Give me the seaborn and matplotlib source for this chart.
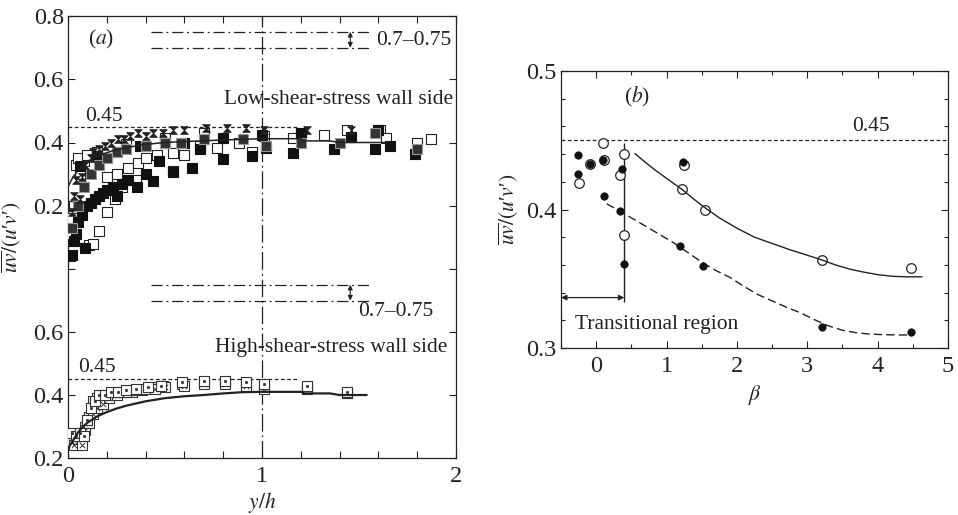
import numpy as np
import pandas as pd
import matplotlib
matplotlib.use("Agg")
import matplotlib.pyplot as plt
import seaborn as sns
from matplotlib.path import Path
from matplotlib.ticker import MultipleLocator, FixedLocator, FuncFormatter

# ---------------- Panel (a): low-shear-stress wall side (upper part) ----------------
low_hg_x = [0.02, 0.03, 0.04, 0.06, 0.07, 0.09, 0.12, 0.13, 0.16, 0.19, 0.22, 0.26, 0.29,
            0.32, 0.36, 0.40, 0.44, 0.49, 0.54, 0.60, 0.71, 0.82, 0.92, 1.01, 1.23, 1.46]
low_hg_y = [0.18, 0.23, 0.28, 0.22, 0.29, 0.33, 0.35, 0.37, 0.38, 0.39, 0.40, 0.41, 0.41,
            0.42, 0.43, 0.42, 0.43, 0.43, 0.44, 0.44, 0.445, 0.445, 0.445, 0.44, 0.44, 0.44]

low_open_x = [0.01, 0.015, 0.02, 0.03, 0.04, 0.06, 0.08, 0.11, 0.13, 0.16, 0.20, 0.20, 0.24,
              0.25, 0.28, 0.31, 0.35, 0.36, 0.40, 0.46, 0.54, 0.54, 0.60, 0.68, 0.77, 0.88,
              0.95, 1.01, 1.16, 1.32, 1.44, 1.61, 1.64, 1.80, 1.87, 0.05, 0.10, 0.15, 0.30,
              0.50, 0.70, 1.20]
low_open_y = [0.04, 0.11, 0.16, 0.20, 0.33, 0.30, 0.34, 0.076, 0.08, 0.12, 0.18, 0.29, 0.22,
              0.30, 0.26, 0.32, 0.28, 0.335, 0.35, 0.36, 0.31, 0.366, 0.36, 0.388, 0.383, 0.40,
              0.37, 0.42, 0.415, 0.425, 0.44, 0.44, 0.415, 0.397, 0.41, 0.35, 0.36, 0.37, 0.395,
              0.415, 0.43, 0.43]

low_fill_x = [0.02, 0.03, 0.04, 0.05, 0.07, 0.09, 0.10, 0.12, 0.14, 0.16, 0.18, 0.20, 0.23,
              0.25, 0.28, 0.31, 0.355, 0.40, 0.44, 0.47, 0.54, 0.64, 0.68, 0.80, 0.95, 1.02,
              1.16, 1.37, 1.46, 1.58, 1.60, 1.66, 1.79, 0.06, 0.15, 0.25, 0.37, 0.50, 0.60,
              0.80, 1.00, 1.20]
low_fill_y = [0.044, 0.09, 0.11, 0.15, 0.17, 0.066, 0.20, 0.21, 0.22, 0.23, 0.24, 0.25, 0.26,
              0.23, 0.27, 0.28, 0.26, 0.30, 0.277, 0.34, 0.307, 0.32, 0.378, 0.348, 0.356, 0.384,
              0.368, 0.38, 0.416, 0.38, 0.44, 0.39, 0.365, 0.325, 0.356, 0.37, 0.388, 0.40, 0.40,
              0.415, 0.425, 0.43]

low_half_x = [0.02, 0.05, 0.08, 0.12, 0.16, 0.20, 0.25, 0.30, 0.40, 0.50, 0.58, 0.70, 0.90,
              1.02, 1.20, 1.40, 1.58, 1.80]
low_half_y = [0.13, 0.20, 0.26, 0.30, 0.33, 0.35, 0.37, 0.38, 0.39, 0.40, 0.40, 0.41, 0.41,
              0.39, 0.40, 0.40, 0.43, 0.38]

low_curve_x = [0.0, 0.025, 0.05, 0.075, 0.10, 0.15, 0.20, 0.25, 0.30, 0.40, 0.50, 0.60, 0.80,
               1.00, 1.20, 1.22, 1.35, 1.40, 1.65]
low_curve_y = [0.26, 0.29, 0.31, 0.327, 0.34, 0.356, 0.368, 0.377, 0.384, 0.394, 0.40, 0.403,
               0.408, 0.412, 0.412, 0.405, 0.405, 0.40, 0.40]

# ---------------- Panel (a): high-shear-stress wall side (lower part) ----------------
high_x_x = [0.02, 0.03, 0.05, 0.07, 0.09, 0.11, 0.13, 0.15, 0.18, 0.21, 0.25, 0.30, 0.35,
            0.40, 0.45, 0.50, 0.60, 0.70, 0.81, 0.92, 1.01, 1.23, 1.44]
high_x_y = [0.25, 0.24, 0.26, 0.24, 0.29, 0.31, 0.34, 0.36, 0.37, 0.39, 0.40, 0.41, 0.415,
            0.42, 0.42, 0.425, 0.43, 0.435, 0.435, 0.43, 0.42, 0.42, 0.405]

high_dot_x = [0.02, 0.04, 0.06, 0.08, 0.10, 0.12, 0.14, 0.16, 0.19, 0.22, 0.26, 0.30, 0.35,
              0.41, 0.48, 0.59, 0.70, 0.81, 0.92, 1.01, 1.23, 1.44]
high_dot_y = [0.28, 0.27, 0.28, 0.27, 0.32, 0.36, 0.38, 0.40, 0.40, 0.41, 0.41, 0.415, 0.42,
              0.425, 0.43, 0.44, 0.445, 0.445, 0.44, 0.435, 0.43, 0.41]

high_open_x = [0.03, 0.06, 0.09, 0.11, 0.13, 0.15, 0.17, 0.20, 0.24, 0.28, 0.33, 0.38, 0.43,
               0.49, 0.59, 0.70, 0.81, 0.92, 1.01, 1.23, 1.44]
high_open_y = [0.27, 0.26, 0.30, 0.33, 0.38, 0.39, 0.38, 0.40, 0.405, 0.41, 0.41, 0.415, 0.425,
               0.43, 0.435, 0.44, 0.44, 0.435, 0.43, 0.425, 0.405]

high_curve_x = [0.0, 0.025, 0.05, 0.075, 0.10, 0.15, 0.20, 0.25, 0.30, 0.40, 0.50, 0.60, 0.70,
                0.80, 0.90, 1.00, 1.20, 1.22, 1.35, 1.40, 1.54]
high_curve_y = [0.23, 0.255, 0.28, 0.298, 0.312, 0.332, 0.346, 0.357, 0.366, 0.38, 0.39, 0.396,
                0.40, 0.405, 0.409, 0.41, 0.41, 0.405, 0.405, 0.40, 0.40]

# ---------------- Panel (b) ----------------
b_open_x = [0.10, 0.39, -0.25, -0.085, 0.105, 0.34, 0.40, 1.25, 1.22, 1.54, 3.21, 4.48]
b_open_y = [0.448, 0.440, 0.419, 0.433, 0.436, 0.4246, 0.3817, 0.4324, 0.4145, 0.3998, 0.3635, 0.3577]

b_fill_x = [-0.26, -0.26, -0.085, 0.10, 0.105, 0.365, 0.34, 0.39, 1.24, 1.19, 1.52, 3.21, 4.47]
b_fill_y = [0.4396, 0.4259, 0.433, 0.436, 0.410, 0.429, 0.3988, 0.3606, 0.4346, 0.3739, 0.3591,
            0.3154, 0.3118]

b_solid_x = [0.55, 0.70, 0.85, 1.00, 1.22, 1.40, 1.54, 1.75, 2.00, 2.25, 2.50, 2.75, 3.00, 3.21,
             3.40, 3.60, 3.80, 4.00, 4.20, 4.40, 4.63]
b_solid_y = [0.4404, 0.434, 0.428, 0.4225, 0.4145, 0.407, 0.4015, 0.394, 0.3865, 0.380, 0.3755,
             0.371, 0.367, 0.3635, 0.360, 0.357, 0.3548, 0.353, 0.3518, 0.3514, 0.3514]

b_dash_x = [0.15, 0.34, 0.50, 0.70, 0.90, 1.10, 1.30, 1.50, 1.70, 1.90, 2.10, 2.30, 2.50, 2.70,
            2.90, 3.10, 3.30, 3.50, 3.70, 3.90, 4.10, 4.30, 4.47]
b_dash_y = [0.4041, 0.3988, 0.394, 0.388, 0.382, 0.376, 0.369, 0.362, 0.356, 0.351, 0.3445,
            0.3385, 0.334, 0.3295, 0.3255, 0.3205, 0.316, 0.3128, 0.311, 0.3100, 0.3096, 0.3094,
            0.3094]

ref_045 = 0.45
band_lo, band_hi = 0.70, 0.75
trans_edge = 0.4

# ---------------- style ----------------
sns.set_theme(style="ticks")
plt.rcParams["font.family"] = ["Liberation Serif", "DejaVu Serif"]
plt.rcParams["mathtext.fontset"] = "stix"
INK = "#222222"
plt.rcParams.update({
    "axes.edgecolor": INK, "axes.linewidth": 0.9,
    "xtick.color": INK, "ytick.color": INK,
    "text.color": INK, "axes.labelcolor": INK,
    "xtick.direction": "in", "ytick.direction": "in",
    "xtick.major.size": 5, "ytick.major.size": 5,
    "xtick.minor.size": 3, "ytick.minor.size": 3,
    "xtick.major.width": 0.8, "ytick.major.width": 0.8,
    "xtick.minor.width": 0.8, "ytick.minor.width": 0.8,
    "font.size": 15,
})
FS = 15.5
TFS = 17.5
YLABEL = r"$\overline{uv}/(u$′$v$′$)$"

fig = plt.figure(figsize=(9.58, 5.15), dpi=100)
W, H = 958, 515
ax_top = fig.add_axes([68 / W, 1 - 269 / H, 388 / W, 253 / H])
ax_bot = fig.add_axes([68 / W, 1 - 458 / H, 388 / W, 189 / H])
ax_b = fig.add_axes([561 / W, 1 - 348 / H, 387 / W, 277 / H])

hourglass = Path([(-1, 1), (1, 1), (-1, -1), (1, -1), (-1, 1)])


def pts(ax, x, y, marker="s", fc="white", ec=INK, s=42, lw=0.8, z=3):
    sns.scatterplot(x=x, y=y, ax=ax, marker=marker, color=fc, edgecolor=ec,
                    s=s, linewidth=lw, zorder=z, legend=False)


def curve(ax, x, y, ls="-", lw=1.1, z=4):
    sns.lineplot(x=x, y=y, ax=ax, color=INK, linestyle=ls, linewidth=lw,
                 estimator=None, sort=False, zorder=z, legend=False)


# ---------- top (low shear) ----------
ax = ax_top
pts(ax, low_open_x, low_open_y, fc="white", ec=INK)
pts(ax, low_fill_x, low_fill_y, fc="#111111", ec="#111111")
pts(ax, low_half_x, low_half_y, fc="#333333", ec="#999999")
pts(ax, low_hg_x, low_hg_y, marker=hourglass, fc="#222222", ec="#222222", s=30, lw=0.6)
curve(ax, low_curve_x, low_curve_y)
ax.hlines(ref_045, 0, 1.18, colors=INK, linestyles=(0, (3, 2)), lw=0.9)
ax.text(0.088, 0.483, "0.45", fontsize=FS, va="center", ha="left")
for yv in (band_lo, band_hi):
    ax.hlines(yv, 0.43, 1.565, colors=INK, linestyles=(0, (9, 3, 1.5, 3)), lw=0.9)
ax.annotate("", xy=(1.455, band_hi), xytext=(1.455, band_lo),
            arrowprops=dict(arrowstyle="<|-|>", mutation_scale=7, lw=0.8, color=INK,
                            shrinkA=0, shrinkB=0))
ax.text(1.59, 0.722, "0.7–0.75", fontsize=FS, va="center", ha="left")
ax.text(1.985, 0.537, "Low-shear-stress wall side", fontsize=FS, va="center", ha="right")
ax.text(0.17, 0.727, r"($a$)", fontsize=FS, va="center", ha="center")
ax.axvline(1.0, color=INK, lw=0.9, linestyle=(0, (14, 3, 1.5, 3)))
ax.set_xlim(0, 2)
ax.set_ylim(0, 0.8)
ax.yaxis.set_major_locator(FixedLocator([0.0, 0.2, 0.4, 0.6, 0.8]))
ax.yaxis.set_major_formatter(FuncFormatter(lambda v, p: "" if abs(v) < 1e-9 else f"{v:.1f}"))
ax.xaxis.set_major_locator(MultipleLocator(0.2))
ax.tick_params(axis="x", top=True, bottom=False, labelbottom=False, labeltop=False)
ax.tick_params(axis="y", left=True, right=True, labelsize=TFS, pad=3)
ax.spines["bottom"].set_visible(False)
ax.set_xlabel("")
ax.set_ylabel("")

# ---------- bottom (high shear) ----------
ax = ax_bot
pts(ax, high_open_x, high_open_y, fc="white", ec="#333333")
pts(ax, high_x_x, high_x_y, fc="white", ec="#333333")
pts(ax, high_x_x, high_x_y, marker="x", fc="#333333", ec="#333333", s=16, lw=0.7)
pts(ax, high_dot_x, high_dot_y, fc="white", ec="#333333")
pts(ax, high_dot_x, high_dot_y, marker="o", fc="#333333", ec="#333333", s=4, lw=0.3)
curve(ax, high_curve_x, high_curve_y, lw=1.6)
ax.hlines(ref_045, 0, 1.18, colors=INK, linestyles=(0, (3, 2)), lw=0.9)
ax.text(0.05, 0.486, "0.45", fontsize=FS, va="center", ha="left")
for yv in (band_lo, band_hi):
    ax.hlines(yv, 0.43, 1.565, colors=INK, linestyles=(0, (9, 3, 1.5, 3)), lw=0.9)
ax.annotate("", xy=(1.455, band_hi), xytext=(1.455, band_lo),
            arrowprops=dict(arrowstyle="<|-|>", mutation_scale=7, lw=0.8, color=INK,
                            shrinkA=0, shrinkB=0))
ax.text(1.495, 0.664, "0.7–0.75", fontsize=FS, va="center", ha="left")
ax.text(1.953, 0.552, "High-shear-stress wall side", fontsize=FS, va="center", ha="right")
ax.axvline(1.0, color=INK, lw=0.9, linestyle=(0, (14, 3, 1.5, 3)))
ax.set_xlim(0, 2)
ax.set_ylim(0.2, 0.8)
ax.yaxis.set_major_locator(FixedLocator([0.2, 0.4, 0.6, 0.8]))
ax.yaxis.set_major_formatter(FuncFormatter(lambda v, p: "" if v > 0.75 else f"{v:.1f}"))
ax.xaxis.set_major_locator(MultipleLocator(0.2))
ax.xaxis.set_major_formatter(FuncFormatter(lambda v, p: f"{v:.0f}" if abs(v - round(v)) < 1e-6 else ""))
ax.tick_params(axis="x", top=False, bottom=True, labelsize=TFS, pad=6)
ax.tick_params(axis="y", left=True, right=True, labelsize=TFS, pad=3)
ax.spines["top"].set_visible(False)
ax.set_xlabel(r"$y/h$", fontsize=FS, labelpad=2)
ax.set_ylabel("")

fig.text(12 / W, 1 - 237 / H, YLABEL, rotation=90,
         fontsize=FS, ha="center", va="center")

# ---------- panel (b) ----------
ax = ax_b
curve(ax, b_solid_x, b_solid_y, lw=1.0)
curve(ax, b_dash_x, b_dash_y, ls=(0, (6, 3)), lw=1.0)
pts(ax, b_open_x, b_open_y, marker="o", fc="white", ec=INK, s=48, lw=0.9)
pts(ax, b_fill_x, b_fill_y, marker="o", fc="#111111", ec="#111111", s=28, lw=0.6, z=4)
ax.axhline(ref_045, color=INK, lw=0.9, linestyle=(0, (3, 2)))
ax.text(3.64, 0.4597, "0.45", fontsize=FS, va="center", ha="left")
ax.vlines(trans_edge, 0.3335, 0.448, colors=INK, lw=1.0)
ax.annotate("", xy=(-0.5, 0.3364), xytext=(trans_edge, 0.3364),
            arrowprops=dict(arrowstyle="<|-|>", mutation_scale=8, lw=0.9, color=INK,
                            shrinkA=0, shrinkB=0))
ax.text(-0.3, 0.3167, "Transitional region", fontsize=FS, va="center", ha="left")
ax.text(0.58, 0.481, r"($b$)", fontsize=FS, va="center", ha="center")
ax.set_xlim(-0.5, 5)
ax.set_ylim(0.3, 0.5)
ax.xaxis.set_major_locator(MultipleLocator(1))
ax.xaxis.set_minor_locator(MultipleLocator(0.5))
ax.yaxis.set_major_locator(MultipleLocator(0.1))
ax.yaxis.set_minor_locator(MultipleLocator(0.02))
ax.yaxis.set_major_formatter(FuncFormatter(lambda v, p: f"{v:.1f}"))
ax.tick_params(which="both", top=True, right=True, labelsize=TFS)
ax.tick_params(axis="x", pad=6)
ax.tick_params(axis="y", pad=3)
ax.set_xlabel(r"$\beta$", fontsize=FS, labelpad=4)
ax.set_ylabel(YLABEL, fontsize=FS, labelpad=4)

fig.savefig("out.png", dpi=100)
